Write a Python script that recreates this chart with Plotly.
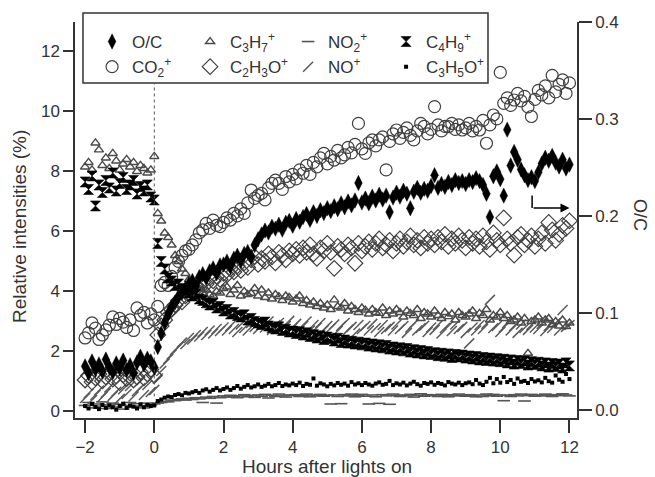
import numpy as np
import plotly.graph_objects as go

# sampling times (hours after lights on), one sample every 0.1 h
hours = np.round(np.arange(-2.0, 12.0001, 0.1), 1)

# ---- O/C ratio (right axis) ----
oc = [0.045, 0.038, 0.050, 0.042, 0.047, 0.040, 0.052, 0.044, 0.039, 0.048,
      0.043, 0.051, 0.041, 0.046, 0.038, 0.049, 0.055, 0.047, 0.053, 0.050, 0.044,
      0.065, 0.079, 0.090, 0.099, 0.106, 0.111, 0.117, 0.121, 0.125, 0.130,
      0.133, 0.128, 0.137, 0.140, 0.136, 0.143, 0.146, 0.141, 0.149, 0.150,
      0.153, 0.148, 0.156, 0.159, 0.154, 0.161, 0.163, 0.158, 0.170, 0.176,
      0.181, 0.185, 0.183, 0.189, 0.187, 0.191, 0.186, 0.193, 0.195, 0.190,
      0.197, 0.194, 0.199, 0.202, 0.196, 0.204, 0.200, 0.206, 0.203, 0.208,
      0.205, 0.210, 0.207, 0.213, 0.209, 0.215, 0.211, 0.216, 0.234, 0.214,
      0.218, 0.213, 0.220, 0.216, 0.222, 0.217, 0.221, 0.204, 0.219, 0.224,
      0.220, 0.226, 0.223, 0.208, 0.225, 0.229, 0.224, 0.228, 0.226, 0.231,
      0.242, 0.229, 0.233, 0.230, 0.235, 0.232, 0.237, 0.234, 0.236, 0.233,
      0.237, 0.235, 0.239, 0.236, 0.232, 0.223, 0.199, 0.241, 0.246, 0.238,
      0.221, 0.289, 0.252, 0.266, 0.258, 0.248, 0.242, 0.237, 0.240, 0.236,
      0.245, 0.254, 0.260, 0.257, 0.262, 0.255, 0.251, 0.258, 0.249, 0.253]

# ---- relative intensities (%) ----
co2 = [2.45, 2.62, 2.95, 2.78, 2.40, 2.55, 2.72, 2.88, 3.15, 2.90,
       3.10, 2.98, 2.80, 3.05, 2.70, 3.45, 3.20, 3.30, 2.95, 3.25, 3.05,
       3.50, 4.20, 4.30, 4.20, 4.50, 4.80, 5.00, 5.20, 5.35, 5.40,
       5.55, 5.72, 5.95, 6.05, 6.27, 6.10, 6.38, 6.20, 6.16, 6.30,
       6.45, 6.38, 6.60, 6.52, 6.75, 6.60, 6.95, 7.38, 7.10, 7.20,
       7.27, 7.05, 7.45, 7.60, 7.71, 7.60, 7.40, 7.83, 7.65, 7.90,
       7.75, 8.05, 7.94, 8.20, 7.90, 8.30, 8.15, 8.45, 8.60, 8.25,
       8.50, 8.38, 8.70, 8.45, 8.55, 8.80, 8.62, 8.90, 9.60, 8.75,
       8.60, 8.95, 9.05, 8.85, 9.05, 9.15, 8.05, 9.00, 9.25, 9.38,
       9.10, 9.30, 9.45, 9.20, 9.05, 9.35, 9.60, 9.50, 9.25, 9.40,
       10.16, 9.55, 9.35, 9.50, 9.49, 9.60, 9.40, 9.55, 9.38, 9.45,
       9.60, 9.35, 9.50, 9.38, 9.70, 8.94, 9.55, 9.88, 9.75, 11.30,
       10.27, 10.45, 10.20, 10.38, 10.60, 10.35, 10.50, 10.15, 9.83, 10.40,
       10.70, 10.55, 10.85, 10.45, 11.20, 10.65, 10.90, 11.05, 10.60, 10.95]

c3h7 = [8.15, 8.30, 8.05, 8.95, 8.72, 8.20, 8.45, 8.10, 8.60, 8.35,
        8.05, 8.25, 8.40, 8.15, 8.30, 8.00, 8.20, 8.10, 7.95, 8.05, 8.50,
        6.60, 6.35, 5.95, 5.80, 5.55, 5.20, 5.00, 4.75, 4.60, 4.40,
        4.25, 4.10, 4.20, 3.95, 4.05, 3.90, 3.85, 4.00, 3.95, 4.10,
        4.15, 3.90, 4.05, 4.20, 3.85, 4.00, 3.90, 3.94, 4.10, 3.85,
        4.05, 3.80, 3.95, 3.75, 3.90, 3.83, 3.70, 3.85, 3.80, 3.65,
        3.75, 3.85, 3.60, 3.70, 3.55, 3.65, 3.50, 3.60, 3.45, 3.55,
        3.40, 3.72, 3.50, 3.45, 3.60, 3.35, 3.50, 3.40, 3.30, 3.45,
        3.38, 3.25, 3.40, 3.30, 3.27, 3.45, 3.20, 3.35, 3.25, 3.40,
        3.30, 3.15, 3.35, 3.27, 3.20, 3.40, 3.10, 3.30, 3.25, 3.15,
        3.35, 3.20, 3.10, 3.30, 3.16, 3.25, 3.05, 3.30, 3.20, 3.15,
        3.25, 3.35, 3.10, 3.27, 3.20, 3.40, 3.05, 3.20, 3.15, 3.30,
        3.10, 3.20, 3.00, 3.05, 3.15, 2.95, 3.10, 1.94, 3.00, 3.05,
        3.15, 2.95, 3.05, 3.10, 2.90, 3.00, 2.85, 3.05, 2.83, 2.95]

c4h9 = [7.65, 7.40, 7.85, 6.85, 7.55, 7.30, 7.70, 7.45, 7.95, 7.35,
        7.60, 7.80, 7.40, 7.55, 7.70, 7.25, 7.50, 7.35, 7.55, 7.15, 7.05,
        5.60, 5.00, 4.75, 4.45, 4.35, 4.20, 4.25, 4.10, 4.05, 3.95,
        3.85, 3.90, 3.75, 3.70, 3.62, 3.55, 3.60, 3.45, 3.50, 3.35,
        3.40, 3.25, 3.30, 3.20, 3.15, 3.22, 3.05, 3.10, 3.00, 2.95,
        2.90, 2.98, 2.85, 2.80, 2.75, 2.82, 2.70, 2.74, 2.65, 2.68,
        2.60, 2.66, 2.55, 2.62, 2.50, 2.56, 2.45, 2.52, 2.40, 2.48,
        2.42, 2.35, 2.44, 2.30, 2.38, 2.28, 2.34, 2.25, 2.31, 2.22,
        2.28, 2.18, 2.25, 2.15, 2.22, 2.12, 2.20, 2.08, 2.15, 2.05,
        2.12, 2.02, 2.10, 1.98, 2.06, 1.95, 2.03, 1.92, 2.00, 1.90,
        1.96, 1.86, 1.94, 1.84, 1.92, 1.80, 1.90, 1.82, 1.88, 1.78,
        1.85, 1.75, 1.83, 1.72, 1.80, 1.70, 1.78, 1.68, 1.76, 1.66,
        1.74, 1.62, 1.72, 1.58, 1.70, 1.60, 1.68, 1.55, 1.66, 1.57,
        1.64, 1.52, 1.62, 1.48, 1.60, 1.50, 1.58, 1.45, 1.62, 1.52]

c2h3o = [1.05, 1.20, 0.98, 1.12, 1.25, 1.02, 1.15, 1.30, 1.08, 1.18,
         0.96, 1.22, 1.10, 1.28, 1.05, 1.15, 1.32, 1.12, 1.25, 1.40, 1.20,
         2.55, 2.85, 3.05, 3.30, 3.40, 3.55, 3.70, 3.65, 3.85, 3.95,
         4.05, 4.20, 4.10, 4.30, 4.25, 4.45, 4.35, 4.50, 4.40, 4.60,
         4.55, 4.75, 4.65, 4.85, 4.70, 4.95, 4.80, 5.05, 5.16, 4.90,
         5.10, 5.00, 5.25, 5.15, 4.95, 5.30, 5.20, 5.05, 5.35, 5.25,
         5.40, 5.20, 5.45, 5.30, 5.55, 5.25, 5.10, 5.45, 5.35, 5.60,
         5.30, 4.77, 5.50, 5.40, 5.25, 5.55, 5.45, 4.94, 5.60, 5.35,
         5.50, 5.65, 5.40, 5.60, 5.75, 5.45, 5.55, 5.70, 5.35, 5.60,
         5.75, 5.50, 5.65, 5.85, 5.55, 5.70, 5.45, 5.80, 5.60, 5.75,
         5.55, 5.80, 5.65, 5.90, 5.50, 5.75, 5.60, 5.85, 5.70, 5.45,
         5.80, 5.60, 5.75, 5.50, 5.85, 5.65, 5.40, 5.95, 5.70, 5.55,
         6.45, 5.75, 5.60, 5.21, 5.80, 5.90, 5.55, 5.70, 5.85, 5.50,
         5.75, 5.95, 5.60, 6.30, 6.05, 5.70, 5.90, 6.20, 6.10, 6.35]

no = [0.45, 0.60, 0.38, 0.55, 0.70, 0.48, 0.62, 0.80, 0.52, 0.66,
      0.42, 0.74, 0.58, 0.85, 0.50, 0.68, 0.78, 0.55, 0.88, 0.65, 0.72,
      1.10, 1.35, 1.60, 1.75, 1.90, 2.05, 2.15, 2.30, 2.25, 2.45,
      2.40, 2.55, 2.50, 2.65, 2.55, 2.70, 2.60, 2.75, 2.68, 2.80,
      2.70, 2.85, 2.75, 2.65, 2.90, 2.78, 2.70, 2.95, 2.82, 2.75,
      2.90, 2.80, 3.00, 2.72, 2.88, 2.95, 2.78, 2.85, 3.02, 2.80,
      2.92, 2.75, 2.85, 3.00, 2.70, 2.88, 2.80, 2.95, 2.72, 2.85,
      2.78, 2.90, 2.68, 2.85, 2.95, 2.72, 2.82, 2.60, 2.88, 2.75,
      2.85, 2.70, 2.92, 2.78, 2.65, 2.88, 2.75, 2.82, 2.70, 2.90,
      2.75, 2.85, 2.62, 2.80, 2.92, 2.70, 2.78, 2.86, 2.65, 2.80,
      2.72, 2.88, 2.60, 2.78, 2.85, 2.68, 2.90, 2.75, 2.82, 2.62,
      2.27, 2.80, 2.70, 2.88, 2.75, 2.92, 3.72, 2.78, 2.85, 2.65,
      2.80, 2.95, 2.70, 2.85, 2.62, 2.90, 2.78, 2.72, 2.88, 2.80,
      2.75, 2.92, 2.68, 2.85, 2.78, 2.95, 2.70, 3.38, 2.82, 2.88]

c3h5o = [0.18, 0.10, 0.25, 0.15, 0.08, 0.22, 0.12, 0.20, 0.14, 0.06,
         0.18, 0.26, 0.12, 0.20, 0.16, 0.10, 0.24, 0.14, 0.22, 0.18, 0.20,
         0.35, 0.40, 0.46, 0.50, 0.48, 0.55, 0.58, 0.54, 0.62, 0.60,
         0.64, 0.68, 0.62, 0.70, 0.74, 0.66, 0.72, 0.78, 0.70, 0.75,
         0.80, 0.72, 0.78, 0.85, 0.76, 0.82, 0.88, 0.80, 0.84, 0.90,
         0.82, 0.86, 0.92, 0.84, 0.88, 0.95, 0.85, 0.90, 0.87, 0.93,
         0.88, 0.96, 0.85, 0.92, 0.89, 1.10, 0.86, 0.94, 0.90, 0.84,
         0.92, 0.87, 0.95, 0.89, 0.93, 0.86, 0.98, 0.90, 0.94, 0.88,
         0.95, 0.90, 0.86, 0.93, 0.97, 0.89, 0.92, 1.02, 0.88, 0.94,
         0.90, 0.96, 0.87, 0.93, 0.99, 0.91, 0.86, 0.95, 0.92, 0.97,
         0.89, 0.95, 0.92, 0.87, 0.98, 0.93, 0.90, 0.96, 0.88, 0.94,
         0.97, 0.91, 1.05, 0.93, 0.88, 0.99, 1.12, 0.94, 1.08, 0.96,
         1.15, 0.98, 1.05, 0.92, 1.10, 0.99, 1.02, 0.95, 1.08, 1.00,
         1.04, 0.97, 1.12, 1.01, 0.96, 1.20, 1.06, 0.99, 1.25, 1.08]

no2 = [0.20, 0.30, 0.12, 0.25, 0.18, 0.32, 0.10, 0.22, 0.28, 0.15,
       0.24, 0.08, 0.20, 0.30, 0.14, 0.26, 0.18, 0.12, 0.28, 0.22, 0.25,
       0.28, 0.30, 0.34, 0.32, 0.38, 0.36, 0.40, 0.42, 0.38, 0.44,
       0.40, 0.46, 0.42, 0.30, 0.48, 0.44, 0.50, 0.28, 0.46, 0.52,
       0.48, 0.54, 0.50, 0.46, 0.52, 0.56, 0.49, 0.53, 0.47, 0.55,
       0.51, 0.57, 0.45, 0.54, 0.50, 0.58, 0.52, 0.48, 0.55, 0.53,
       0.56, 0.50, 0.54, 0.58, 0.49, 0.55, 0.52, 0.57, 0.51, 0.54,
       0.25, 0.55, 0.50, 0.26, 0.56, 0.52, 0.58, 0.49, 0.54, 0.57,
       0.51, 0.25, 0.55, 0.49, 0.27, 0.56, 0.52, 0.24, 0.58, 0.53,
       0.50, 0.55, 0.52, 0.57, 0.48, 0.54, 0.59, 0.51, 0.56, 0.53,
       0.55, 0.50, 0.57, 0.53, 0.49, 0.56, 0.52, 0.58, 0.54, 0.51,
       0.56, 0.52, 0.49, 0.55, 0.50, 0.58, 0.53, 0.57, 0.51, 0.55,
       0.36, 0.54, 0.50, 0.56, 0.52, 0.58, 0.35, 0.53, 0.57, 0.51,
       0.55, 0.52, 0.58, 0.54, 0.50, 0.56, 0.53, 0.59, 0.55, 0.52]

for s in (oc, co2, c3h7, c4h9, c2h3o, no, c3h5o, no2):
    assert len(s) == len(hours), len(s)

x_ticks = [-2, 0, 2, 4, 6, 8, 10, 12]
y_ticks = [0, 2, 4, 6, 8, 10, 12]
y2_ticks = [0.0, 0.1, 0.2, 0.3, 0.4]
lights_on = 0

FONT = "Liberation Sans, Arial, sans-serif"
TXT = "#333333"

fig = go.Figure()

def add(name, y, symbol, size, color, lw, legend, rank, axis="y"):
    marker = dict(symbol=symbol, size=size, color=color,
                  line=dict(width=lw, color=color))
    fig.add_trace(go.Scatter(x=hours, y=y, mode="markers", name=name,
                             marker=marker, legend=legend, legendrank=rank,
                             yaxis=axis))

add("NO<sup>+</sup>", no, "line-ne", 10, "#5a5a5a", 1.5, "legend2", 3)
add("C<sub>3</sub>H<sub>7</sub><sup>+</sup>", c3h7, "triangle-up-open", 8, "#4a4a4a", 1.4, "legend", 2)
add("CO<sub>2</sub><sup>+</sup>", co2, "circle-open", 12, "#404040", 1.2, "legend2", 1)
add("C<sub>2</sub>H<sub>3</sub>O<sup>+</sup>", c2h3o, "diamond-open", 12, "#404040", 1.2, "legend2", 2)
add("NO<sub>2</sub><sup>+</sup>", no2, "line-ew", 9, "#555555", 1.6, "legend", 3)
add("C<sub>3</sub>H<sub>5</sub>O<sup>+</sup>", c3h5o, "square", 4, "#000000", 0, "legend2", 4)
add("C<sub>4</sub>H<sub>9</sub><sup>+</sup>", c4h9, "hourglass", 10, "#000000", 0.6, "legend", 4)
add("O/C", oc, "diamond-tall", 11, "#000000", 0.4, "legend", 1, axis="y2")

axis_common = dict(showline=True, linecolor=TXT, linewidth=1.5, ticks="outside",
                   tickcolor=TXT, tickwidth=1.5, showgrid=False, zeroline=False,
                   tickfont=dict(family=FONT, size=17, color=TXT))

leg_common = dict(orientation="h", xanchor="left", yanchor="middle",
                  bgcolor="rgba(0,0,0,0)", borderwidth=0,
                  entrywidth=53, entrywidthmode="pixels",
                  font=dict(family=FONT, size=17, color=TXT))

fig.update_layout(
    width=655, height=477,
    margin=dict(l=75, r=78, t=22, b=59),
    paper_bgcolor="white", plot_bgcolor="white",
    showlegend=True,
    xaxis=dict(range=[-2.292, 12.217], tickvals=x_ticks, ticklen=13, **axis_common),
    yaxis=dict(range=[-0.217, 12.98], tickvals=y_ticks, ticklen=10, **axis_common),
    yaxis2=dict(range=[-0.00825, 0.4], tickvals=y2_ticks, tickformat=".1f",
                overlaying="y", side="right", ticklen=13, **axis_common),
    legend=dict(x=0.034, y=0.9495, **leg_common),
    legend2=dict(x=0.034, y=0.886, **leg_common),
    shapes=[
        dict(type="rect", xref="paper", yref="paper", x0=0.0159, x1=0.8227,
             y0=0.846, y1=1.0227, line=dict(color=TXT, width=1.5), layer="below"),
        dict(type="line", xref="x", yref="y", x0=lights_on, x1=lights_on,
             y0=0.5, y1=10.93, line=dict(color="#555555", width=1, dash="dot")),
        dict(type="line", xref="x", yref="y", x0=10.92, x1=10.92,
             y0=7.2, y1=6.78, line=dict(color="#000000", width=1.5)),
    ],
    annotations=[
        dict(x=12.0, y=6.78, ax=10.92, ay=6.78, xref="x", yref="y",
             axref="x", ayref="y", text="", showarrow=True, arrowhead=2,
             arrowsize=1.2, arrowwidth=1.5, arrowcolor="#000000"),
        dict(text="Hours after lights on", xref="paper", yref="paper",
             x=0.501, y=-0.1237, xanchor="center", yanchor="middle",
             showarrow=False, font=dict(family=FONT, size=19, color=TXT)),
        dict(text="Relative intensities (%)", xref="paper", yref="paper",
             x=-0.1096, y=0.485, xanchor="center", yanchor="middle", textangle=-90,
             showarrow=False, font=dict(family=FONT, size=19, color=TXT)),
        dict(text="O/C", xref="paper", yref="paper",
             x=1.1255, y=0.5126, xanchor="center", yanchor="middle", textangle=90,
             showarrow=False, font=dict(family=FONT, size=18, color=TXT)),
    ],
)

fig.write_html("out.html", config={"displayModeBar": False})
